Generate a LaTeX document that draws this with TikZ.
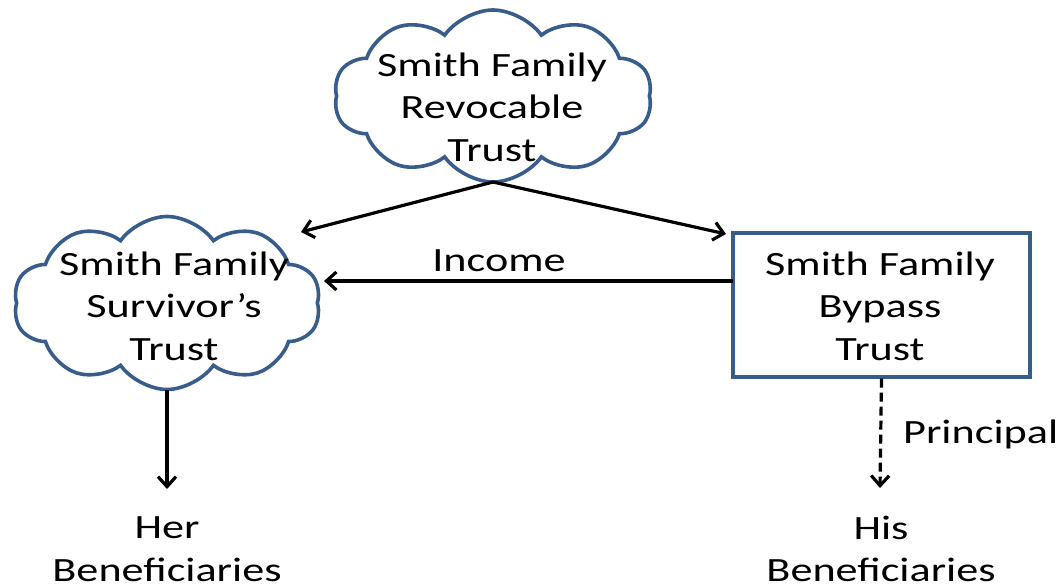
\documentclass[tikz,border=0pt]{standalone}
\usepackage{fontspec}
\setmainfont[FakeStretch=1.3]{Carlito}
\usetikzlibrary{shapes.symbols,arrows.meta}
\definecolor{cloudblue}{RGB}{56,93,138}
\tikzset{
  cloudshape/.style={cloud, cloud puffs=10, cloud puff arc=110, cloud ignores aspect,
    draw=cloudblue, line width=3.6pt, fill=white, inner sep=0pt},
  boxshape/.style={draw=cloudblue, line width=3.4pt, fill=white, inner sep=0pt},
  lbl/.style={align=center, inner sep=0pt, font=\fontsize{34}{42.5}\selectfont},
  arr/.style={line width=3.2pt, -{Straight Barb[length=10pt,width=18pt,line width=3.2pt]}},
}
\begin{document}
\begin{tikzpicture}[x=1pt,y=-1pt]
\useasboundingbox (0,0) rectangle (1062,586);
% shapes
\node[cloudshape, minimum width=318pt, minimum height=172pt] (rev) at (493,96) {};
\node[cloudshape, minimum width=307pt, minimum height=173pt] (surv) at (167,303) {};
\node[boxshape, minimum width=297pt, minimum height=144pt] (bypass) at (881.5,305) {};
% texts
\node[lbl] (revtext) at (492,107) {Smith Family\\Revocable\\Trust};
\node[lbl] (survtext) at (174,306) {Smith Family\\Survivor’s\\Trust};
\node[lbl] (bypasstext) at (880,306) {Smith Family\\Bypass\\Trust};
\node[lbl] (her) at (167,549) {Her\\Beneficiaries};
\node[lbl] (his) at (881,549) {His\\Beneficiaries};
\node[lbl, anchor=base west] (principal) at (903,443) {Principal};
\node[lbl, anchor=base] (income) at (499,271) {Income};
% connector ends
\coordinate (revBottom) at (493,182);
\coordinate (survBottom) at (167,390);
\coordinate (toSurv) at (301,232);
\coordinate (toBypass) at (726,234);
\coordinate (incStart) at (733,281);
\coordinate (incEnd) at (324,281);
\coordinate (herEnd) at (167,489);
\coordinate (hisEnd) at (880,488);
% connectors
\draw[arr] (revBottom) -- (toSurv);
\draw[arr] (revBottom) -- (toBypass);
\draw[arr] (incStart) -- (incEnd);
\draw[arr] (survBottom) -- (herEnd);
\draw[arr, dash pattern=on 9pt off 5pt] (bypass.south) -- (hisEnd);
\end{tikzpicture}
\end{document}
